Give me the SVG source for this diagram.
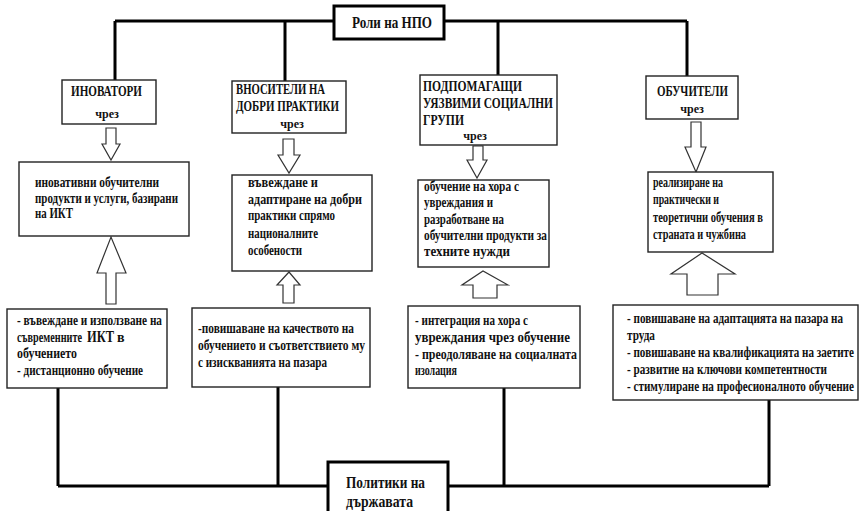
<svg xmlns="http://www.w3.org/2000/svg" width="860" height="511" viewBox="0 0 860 511">
<style>
.box{fill:#fff;stroke:#222;stroke-width:1.4}
.tbox{fill:#fff;stroke:#000;stroke-width:3}
.conn{stroke:#000;stroke-width:3;fill:none}
.arr{fill:#fff;stroke:#333;stroke-width:1.2;stroke-linejoin:miter}
.t{font-family:"Liberation Serif","Times New Roman",serif;font-weight:bold;fill:#111;font-size:14px}
.h{font-size:14px}
.c{font-size:12px;text-anchor:middle}
.big{font-size:16px}
</style>
<rect width="860" height="511" fill="#fff"/>
<g id="connectors">
<path class="conn" d="M115,21 H687 M115,21 V80 M285,21 V81 M498,21 V75 M687,21 V76"/>
<path class="conn" d="M58,486 H769 M58,388 V486 M278,387 V486 M504,388 V486 M769,400 V486"/>
<polygon class="arr" points="106,128 116,128 116,144 120,144 111,160 102,144 106,144"/>
<polygon class="arr" points="106,304 116,304 116,273 126,273 111,237 97,273 106,273"/>
<polygon class="arr" points="283,139 294,139 294,155 300,155 289,173 278,155 283,155"/>
<polygon class="arr" points="283,303 294,303 294,285 300,285 289,272 277,285 283,285"/>
<polygon class="arr" points="473,146 483,146 483,160 487,160 477,178 467,160 473,160"/>
<polygon class="arr" points="473,298 497,298 497,285 508,285 483,271 462,285 473,285"/>
<polygon class="arr" points="691,122 701,122 701,147 706,147 696,172 685,147 691,147"/>
<polygon class="arr" points="687,295 718,295 718,274 735,274 702,253 671,274 687,274"/>
</g>
<g id="title">
<rect class="tbox" x="334" y="6" width="110" height="33"/>
<text class="t big" x="352" y="28" textLength="80" lengthAdjust="spacingAndGlyphs">Роли на НПО</text>
</g>
<g id="inovatori">
<rect class="box" x="62" y="80" width="94" height="44"/>
<text class="t h" x="71" y="96" textLength="71" lengthAdjust="spacingAndGlyphs">ИНОВАТОРИ</text>
<text class="t c" x="107" y="118">чрез</text>
</g>
<g id="vnositeli">
<rect class="box" x="232" y="81" width="114" height="52"/>
<text class="t h" x="236" y="94" textLength="89" lengthAdjust="spacingAndGlyphs">ВНОСИТЕЛИ НА</text>
<text class="t h" x="236" y="111" textLength="103" lengthAdjust="spacingAndGlyphs">ДОБРИ ПРАКТИКИ</text>
<text class="t c" x="292" y="128">чрез</text>
</g>
<g id="podpomagashti">
<rect class="box" x="420" y="75" width="137" height="70"/>
<text class="t h" x="423" y="91" textLength="99" lengthAdjust="spacingAndGlyphs">ПОДПОМАГАЩИ</text>
<text class="t h" x="423" y="108" textLength="130" lengthAdjust="spacingAndGlyphs">УЯЗВИМИ СОЦИАЛНИ</text>
<text class="t h" x="423" y="125" textLength="41" lengthAdjust="spacingAndGlyphs">ГРУПИ</text>
<text class="t c" x="475" y="140">чрез</text>
</g>
<g id="obuchiteli">
<rect class="box" x="646" y="76" width="92" height="43"/>
<text class="t h" x="657" y="96" textLength="71" lengthAdjust="spacingAndGlyphs">ОБУЧИТЕЛИ</text>
<text class="t c" x="692" y="113">чрез</text>
</g>
<g id="m1">
<rect class="box" x="19" y="162" width="170" height="74"/>
<text class="t" x="35" y="187" textLength="124" lengthAdjust="spacingAndGlyphs">иновативни обучителни</text>
<text class="t" x="35" y="203" textLength="143" lengthAdjust="spacingAndGlyphs">продукти и услуги, базирани</text>
<text class="t" x="35" y="218" textLength="38" lengthAdjust="spacingAndGlyphs">на ИКТ</text>
</g>
<g id="m2">
<rect class="box" x="232" y="175" width="140" height="96"/>
<text class="t" x="248" y="187" textLength="70" lengthAdjust="spacingAndGlyphs">въвеждане и</text>
<text class="t" x="248" y="204" textLength="114" lengthAdjust="spacingAndGlyphs">адаптиране на добри</text>
<text class="t" x="248" y="220" textLength="87" lengthAdjust="spacingAndGlyphs">практики спрямо</text>
<text class="t" x="248" y="238" textLength="70" lengthAdjust="spacingAndGlyphs">националните</text>
<text class="t" x="248" y="255" textLength="54" lengthAdjust="spacingAndGlyphs">особености</text>
</g>
<g id="m3">
<rect class="box" x="418" y="180" width="131" height="87"/>
<text class="t" x="424" y="191" textLength="95" lengthAdjust="spacingAndGlyphs">обучение на хора с</text>
<text class="t" x="424" y="207" textLength="69" lengthAdjust="spacingAndGlyphs">увреждания и</text>
<text class="t" x="424" y="224" textLength="80" lengthAdjust="spacingAndGlyphs">разработване на</text>
<text class="t" x="424" y="240" textLength="123" lengthAdjust="spacingAndGlyphs">обучителни продукти за</text>
<text class="t" x="424" y="256" textLength="86" lengthAdjust="spacingAndGlyphs">техните нужди</text>
</g>
<g id="m4">
<rect class="box" x="648" y="172" width="125" height="80"/>
<text class="t" x="653" y="187" textLength="70" lengthAdjust="spacingAndGlyphs">реализиране на</text>
<text class="t" x="653" y="204" textLength="66" lengthAdjust="spacingAndGlyphs">практически и</text>
<text class="t" x="653" y="222" textLength="110" lengthAdjust="spacingAndGlyphs">теоретични обучения в</text>
<text class="t" x="653" y="239" textLength="93" lengthAdjust="spacingAndGlyphs">страната и чужбина</text>
</g>
<g id="b1">
<rect class="box" x="7" y="309" width="160" height="79"/>
<text class="t" x="17" y="325" textLength="145" lengthAdjust="spacingAndGlyphs">- въвеждане и използване на</text>
<text class="t" x="17" y="342" textLength="65" lengthAdjust="spacingAndGlyphs">съвременните</text>
<text class="t big" x="87" y="342" textLength="27" lengthAdjust="spacingAndGlyphs">ИКТ</text>
<text class="t" x="117" y="342">в</text>
<text class="t" x="17" y="358" textLength="60" lengthAdjust="spacingAndGlyphs">обучението</text>
<text class="t" x="17" y="375" textLength="126" lengthAdjust="spacingAndGlyphs">- дистанционно обучение</text>
</g>
<g id="b2">
<rect class="box" x="192" y="308" width="178" height="79"/>
<text class="t" x="198" y="333" textLength="156" lengthAdjust="spacingAndGlyphs">-повишаване на качеството на</text>
<text class="t" x="198" y="350" textLength="167" lengthAdjust="spacingAndGlyphs">обучението и съответствието му</text>
<text class="t" x="198" y="367" textLength="129" lengthAdjust="spacingAndGlyphs">с изискванията на пазара</text>
</g>
<g id="b3">
<rect class="box" x="408" y="306" width="172" height="82"/>
<text class="t" x="415" y="325" textLength="113" lengthAdjust="spacingAndGlyphs">- интеграция на хора с</text>
<text class="t" x="415" y="342" textLength="155" lengthAdjust="spacingAndGlyphs">увреждания чрез обучение</text>
<text class="t" x="415" y="359" textLength="162" lengthAdjust="spacingAndGlyphs">- преодоляване на социалната</text>
<text class="t" x="415" y="375" textLength="42" lengthAdjust="spacingAndGlyphs">изолация</text>
</g>
<g id="b4">
<rect class="box" x="613" y="305" width="245" height="95"/>
<text class="t" x="627" y="323" textLength="216" lengthAdjust="spacingAndGlyphs">- повишаване на адаптацията на пазара на</text>
<text class="t" x="627" y="340" textLength="28" lengthAdjust="spacingAndGlyphs">труда</text>
<text class="t" x="627" y="357" textLength="227" lengthAdjust="spacingAndGlyphs">- повишаване на квалификацията на заетите</text>
<text class="t" x="627" y="374" textLength="200" lengthAdjust="spacingAndGlyphs">- развитие на ключови компетентности</text>
<text class="t" x="627" y="391" textLength="227" lengthAdjust="spacingAndGlyphs">- стимулиране на професионалното обучение</text>
</g>
<g id="politiki">
<rect class="tbox" x="328" y="462" width="120" height="55"/>
<text class="t big" x="346" y="488" textLength="79" lengthAdjust="spacingAndGlyphs">Политики на</text>
<text class="t big" x="346" y="507" textLength="67" lengthAdjust="spacingAndGlyphs">държавата</text>
</g>
</svg>
